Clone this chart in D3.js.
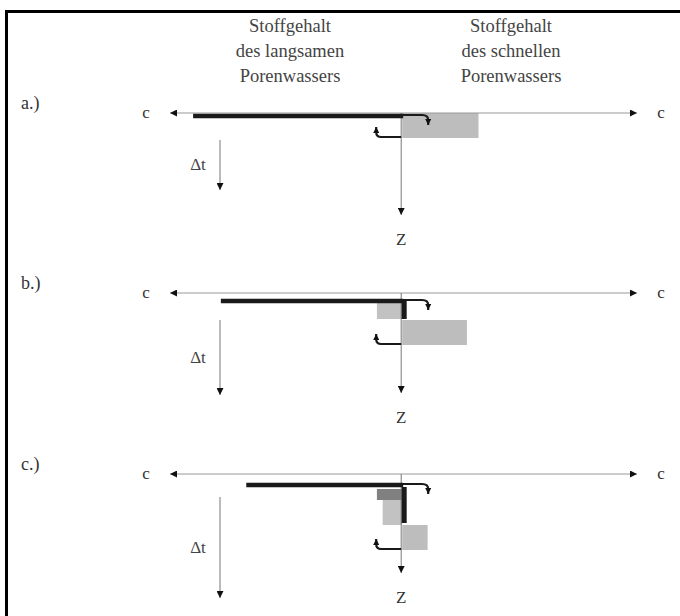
<!DOCTYPE html>
<html><head><meta charset="utf-8">
<script src="https://cdn.jsdelivr.net/npm/d3@7"></script>
<style>body{margin:0;background:#fff}svg{display:block}</style>
</head><body>
<script>
// ---- data ----
const panels = ["a.)", "b.)", "c.)"];
const headers = [["Stoffgehalt","des langsamen","Porenwassers"],["Stoffgehalt","des schnellen","Porenwassers"]];
// slow pore water concentration (negative = left side), line reach per panel
const slowLine = [-90, -78, -67];
const slowLineDepth = [3, 8, 11];
// fast pore water block: [c, zTop, zBottom]
const fastBlock = [[33, 0, 25], [28, 27, 52], [11, 51, 76]];
// slow-side blocks: [cLeft, zTop, zBottom, shade]
const slowBlocks = [[], [[-10.5, 10, 26, "light"]], [[-10.5, 15, 26, "dark"], [-8, 26, 51, "light"]]];
// dark vertical segment (depth range) in slow water
const slowVert = [null, [8, 26], [13, 49]];
const zLength = [102, 100, 99];
const dtRange = [[27, 77], [27, 102], [23, 124]];
const panelY = [113, 293, 474];

const W = 680, H = 616;
const svg = d3.select("body").append("svg").attr("width", W).attr("height", H);
const defs = svg.append("defs");
function marker(id, w, h) {
  defs.append("marker").attr("id", id).attr("viewBox", "0 0 10 10").attr("refX", 10).attr("refY", 5)
    .attr("markerWidth", w).attr("markerHeight", h).attr("markerUnits", "userSpaceOnUse").attr("orient", "auto")
    .append("path").attr("d", "M0,0L10,5L0,10Z").attr("fill", "#111");
}
marker("arr", 9, 7);
marker("hk", 6, 6);

const x = d3.scaleLinear().domain([-100, 102]).range([170, 637]);
const font = "'Liberation Serif','Times New Roman',serif";

// frame
svg.append("line").attr("x1", 5).attr("x2", W).attr("y1", 11.5).attr("y2", 11.5).attr("stroke", "#000").attr("stroke-width", 3);
svg.append("line").attr("x1", 6.5).attr("x2", 6.5).attr("y1", 10).attr("y2", H).attr("stroke", "#000").attr("stroke-width", 3);

// headers
[290, 511].forEach((cx, i) => {
  headers[i].forEach((t, j) => {
    svg.append("text").attr("x", cx).attr("y", 32 + j * 25).attr("text-anchor", "middle")
      .attr("font-family", font).attr("font-size", 18.5).attr("fill", "#444").text(t);
  });
});

panels.forEach((lab, i) => {
  const y0 = panelY[i];
  const y = d3.scaleLinear().domain([0, 100]).range([y0, y0 + 100]);
  const g = svg.append("g");

  g.append("text").attr("x", 21).attr("y", y0 - 4).attr("font-family", font).attr("font-size", 18).attr("fill", "#333").text(lab);
  g.append("text").attr("x", 146).attr("y", y0 + 5).attr("text-anchor", "middle").attr("font-family", font).attr("font-size", 17).attr("fill", "#333").text("c");
  g.append("text").attr("x", 661).attr("y", y0 + 5).attr("text-anchor", "middle").attr("font-family", font).attr("font-size", 17).attr("fill", "#333").text("c");

  // blocks
  const fb = fastBlock[i];
  g.append("rect").attr("x", x(0) + 1).attr("y", y(fb[1])).attr("width", x(fb[0]) - x(0)).attr("height", y(fb[2]) - y(fb[1])).attr("fill", "#bdbdbd");
  slowBlocks[i].forEach(b => {
    g.append("rect").attr("x", x(b[0])).attr("y", y(b[1])).attr("width", x(0) - x(b[0]) + 1).attr("height", y(b[2]) - y(b[1]))
      .attr("fill", b[3] === "dark" ? "#808080" : "#c2c2c2");
  });

  // horizontal c axis (both directions)
  g.append("line").attr("x1", x(0)).attr("x2", x.range()[1]).attr("y1", y0).attr("y2", y0).attr("stroke", "#999").attr("stroke-width", 1).attr("marker-end", "url(#arr)");
  g.append("line").attr("x1", x(0)).attr("x2", x.range()[0]).attr("y1", y0).attr("y2", y0).attr("stroke", "#999").attr("stroke-width", 1).attr("marker-end", "url(#arr)");
  // Z axis
  g.append("line").attr("x1", x(0)).attr("x2", x(0)).attr("y1", y0).attr("y2", y(zLength[i])).attr("stroke", "#777").attr("stroke-width", 1).attr("marker-end", "url(#arr)");
  g.append("text").attr("x", x(0)).attr("y", y(zLength[i]) + 30).attr("text-anchor", "middle").attr("font-family", font).attr("font-size", 17).attr("fill", "#333").text("Z");
  // Δt arrow
  const dt = dtRange[i];
  g.append("line").attr("x1", 220).attr("x2", 220).attr("y1", y(dt[0])).attr("y2", y(dt[1])).attr("stroke", "#777").attr("stroke-width", 1).attr("marker-end", "url(#arr)");
  g.append("text").attr("x", 198).attr("y", y((dt[0] + dt[1]) / 2) + 5).attr("text-anchor", "middle").attr("font-family", font).attr("font-size", 17).attr("fill", "#444").text("\u0394t");

  // slow pore water line
  g.append("line").attr("x1", x(slowLine[i])).attr("x2", x(0) + 2).attr("y1", y(slowLineDepth[i])).attr("y2", y(slowLineDepth[i]))
    .attr("stroke", "#1a1a1a").attr("stroke-width", 4.5);
  if (slowVert[i]) {
    g.append("line").attr("x1", x(0) + 3).attr("x2", x(0) + 3).attr("y1", y(slowVert[i][0])).attr("y2", y(slowVert[i][1]))
      .attr("stroke", "#1a1a1a").attr("stroke-width", 5);
  }

  // exchange hooks
  const ht = y(slowLineDepth[i]) - 1;
  const x0 = x(0);
  g.append("path").attr("d", `M${x0},${ht}H${x0 + 21}Q${x0 + 27},${ht} ${x0 + 27},${ht + 5}V${ht + 10}`)
    .attr("fill", "none").attr("stroke", "#1a1a1a").attr("stroke-width", 2.2).attr("marker-end", "url(#hk)");
  const hb = y(fb[2]) - 1;
  g.append("path").attr("d", `M${x0},${hb}H${x0 - 20}Q${x0 - 25},${hb} ${x0 - 25},${hb - 5}V${hb - 10}`)
    .attr("fill", "none").attr("stroke", "#1a1a1a").attr("stroke-width", 2.2).attr("marker-end", "url(#hk)");
});
</script>
</body></html>
